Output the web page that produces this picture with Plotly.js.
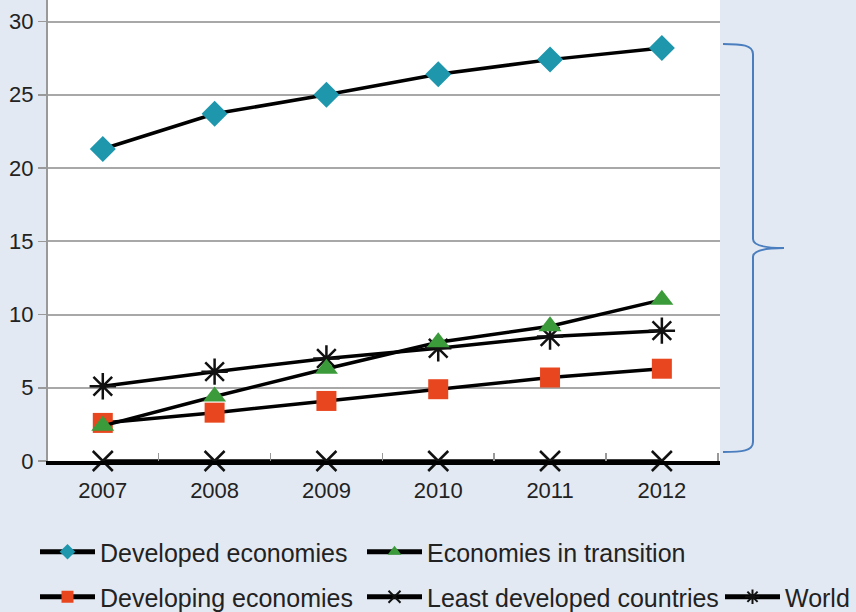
<!DOCTYPE html>
<html>
<head>
<meta charset="utf-8">
<script src="https://cdn.plot.ly/plotly-3.0.1.min.js"></script>
<style>html,body{margin:0;padding:0;background:#e2e9f2;}#chart{width:856px;height:612px;}</style>
</head>
<body>
<div id="chart"></div>
<script>
var years = [2007, 2008, 2009, 2010, 2011, 2012];
var yearLabels = ["2007", "2008", "2009", "2010", "2011", "2012"];
var developed = [21.3, 23.7, 25.0, 26.4, 27.4, 28.2];
var transition = [2.4, 4.4, 6.3, 8.1, 9.2, 11.0];
var developing = [2.6, 3.3, 4.1, 4.9, 5.7, 6.3];
var leastDeveloped = [0, 0, 0, 0, 0, 0];
var world = [5.1, 6.1, 7.0, 7.7, 8.5, 8.9];
var yTicks = [0, 5, 10, 15, 20, 25, 30];

var W = 856, H = 612, L = 48, R = 720, T = 0, B = 461;
var legFont = {family: "Liberation Sans, Arial, sans-serif", size: 25, color: "#222"};
var tickFont = {family: "Liberation Sans, Arial, sans-serif", size: 22, color: "#222"};

function leg(px, py) {
  return {x: px / W, y: 1 - py / H, xref: "container", yref: "container", xanchor: "left", yanchor: "middle",
    orientation: "h", bgcolor: "rgba(0,0,0,0)", borderwidth: 0, font: legFont, itemwidth: 55, itemsizing: "constant"};
}

var lineBlack = {color: "#000", width: 3.5};
var traces = [
  {x: years, y: leastDeveloped, name: "Least developed countries", mode: "lines+markers", cliponaxis: false,
   line: lineBlack, marker: {symbol: "x-thin", size: 20, line: {color: "#111", width: 2.5}}, legend: "legend4"},
  {x: years, y: world, name: "World", mode: "lines+markers", line: lineBlack,
   marker: {symbol: "asterisk", size: 22, line: {color: "#111", width: 2.5}}, legend: "legend5"},
  {x: years, y: developing, name: "Developing economies", mode: "lines+markers", line: lineBlack,
   marker: {symbol: "square", size: 20, color: "#e8461e", line: {width: 0}}, legend: "legend3"},
  {x: years, y: transition, name: "Economies in transition", mode: "lines+markers", line: lineBlack,
   marker: {symbol: "triangle-up", size: 20, color: "#3b9b3b", line: {width: 0}}, legend: "legend2"},
  {x: years, y: developed, name: "Developed economies", mode: "lines+markers", line: lineBlack,
   marker: {symbol: "diamond", size: 20, color: "#1e97ad", line: {width: 0}}, legend: "legend"}
];

function px2paper(px, py) {
  return ((px - L) / (R - L)).toFixed(4) + "," + ((B - py) / (B - T)).toFixed(4);
}
var bracePath = "M" + px2paper(723, 44) +
  " C" + px2paper(742, 44) + " " + px2paper(753, 45) + " " + px2paper(753, 54) +
  " L" + px2paper(753, 239) +
  " C" + px2paper(753, 246) + " " + px2paper(766, 248) + " " + px2paper(784, 248) +
  " C" + px2paper(766, 248) + " " + px2paper(753, 250) + " " + px2paper(753, 257) +
  " L" + px2paper(753, 442) +
  " C" + px2paper(753, 451) + " " + px2paper(742, 452) + " " + px2paper(723, 452);

var layout = {
  width: W, height: H,
  margin: {l: L, r: W - R, t: T, b: H - B, pad: 0, autoexpand: false},
  paper_bgcolor: "#e2e9f2",
  plot_bgcolor: "#ffffff",
  showlegend: true,
  xaxis: {
    range: [2006.51, 2012.52], tickvals: years, ticktext: yearLabels, ticks: "", showgrid: false, zeroline: false,
    showline: true, linecolor: "#000", linewidth: 4, tickfont: tickFont, automargin: false, ticklabelstandoff: 7,
    minor: {tick0: 2006.5, dtick: 1, ticks: "inside", ticklen: 8, tickcolor: "#999", tickwidth: 1.5, showgrid: false}
  },
  yaxis: {
    range: [0, 31.47], tickvals: yTicks, ticks: "outside", ticklen: 8, tickcolor: "#999", tickwidth: 1.5,
    showgrid: true, gridcolor: "#a8a8a8", gridwidth: 2, zeroline: false,
    showline: true, linecolor: "#999", linewidth: 2, tickfont: tickFont, automargin: false
  },
  legend: leg(35, 552),
  legend2: leg(362, 552),
  legend3: leg(35, 597),
  legend4: leg(362, 597),
  legend5: leg(720, 597),
  shapes: [{type: "path", xref: "paper", yref: "paper", path: bracePath, line: {color: "#4a7ebf", width: 2}}]
};

Plotly.newPlot("chart", traces, layout, {displayModeBar: false, staticPlot: true});
</script>
</body>
</html>
